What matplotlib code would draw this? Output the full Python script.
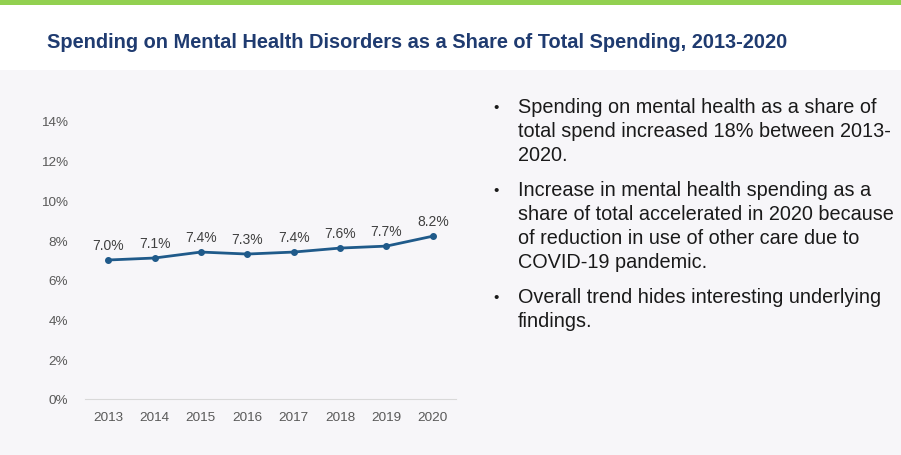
import matplotlib.pyplot as plt
from matplotlib.patches import Rectangle

# === Datos ===
years = ["2013", "2014", "2015", "2016", "2017", "2018", "2019", "2020"]
share = [7.0, 7.1, 7.4, 7.3, 7.4, 7.6, 7.7, 8.2]
yticks = [0, 2, 4, 6, 8, 10, 12, 14]

title = "Spending on Mental Health Disorders as a Share of Total Spending, 2013-2020"
bullets = [
    ["Spending on mental health as a share of",
     "total spend increased 18% between 2013-",
     "2020."],
    ["Increase in mental health spending as a",
     "share of total accelerated in 2020 because",
     "of reduction in use of other care due to",
     "COVID-19 pandemic."],
    ["Overall trend hides interesting underlying",
     "findings."],
]

W, H = 901, 456
fig = plt.figure(figsize=(W / 100, H / 100), dpi=100)
fig.patch.set_facecolor("#f7f6f9")

# fondo: barra verde + cabecera blanca
fig.patches.append(Rectangle((0, 1 - 71 / H), 1, 71 / H, transform=fig.transFigure,
                             facecolor="white", edgecolor="none", zorder=0))
fig.patches.append(Rectangle((0, 1 - 5.5 / H), 1, 5.5 / H, transform=fig.transFigure,
                             facecolor="#92d050", edgecolor="none", zorder=1))

fig.text(47 / W, 1 - 48 / H, title, fontsize=14.4, fontweight="bold",
         color="#1f3b70", va="baseline", ha="left",
         family=["Liberation Sans Narrow", "Liberation Sans"])

# === Gráfico ===
ax = fig.add_axes([85 / W, 1 - 400 / H, (456 - 85) / W, (400 - 122) / H])
ax.set_facecolor("none")
x = range(len(years))
ax.plot(x, share, color="#1f5a8a", linewidth=2, marker="o", markersize=4)
for i, v in zip(x, share):
    ax.annotate(f"{v:.1f}%", (i, v), xytext=(0, 11), textcoords="offset points",
                ha="center", va="center", fontsize=10, color="#404040",
                family="Liberation Sans")

ax.set_xlim(-0.5, len(years) - 0.5)
ax.set_ylim(0, 14)
ax.set_xticks(list(x))
ax.set_xticklabels(years)
ax.set_yticks(yticks)
ax.set_yticklabels([f"{t}%" for t in yticks])
for lab in ax.get_xticklabels() + ax.get_yticklabels():
    lab.set_family("Liberation Sans")
    lab.set_fontsize(9.7)
    lab.set_color("#595959")
ax.tick_params(length=0)
ax.tick_params(axis="x", pad=9)
ax.tick_params(axis="y", pad=12)
for s in ["top", "right", "left"]:
    ax.spines[s].set_visible(False)
ax.spines["bottom"].set_color("#d9d9d9")

# === Viñetas ===
y = 113
for para in bullets:
    fig.text(493 / W, 1 - (y - 1) / H, "•", fontsize=11, color="#1a1a1a",
             va="baseline", ha="left", family="Liberation Sans")
    for line in para:
        fig.text(518 / W, 1 - y / H, line, fontsize=14.3, color="#1a1a1a",
                 va="baseline", ha="left", family="Liberation Sans")
        y += 24
    y += 11

fig.savefig("out.png", dpi=100, facecolor=fig.get_facecolor())
